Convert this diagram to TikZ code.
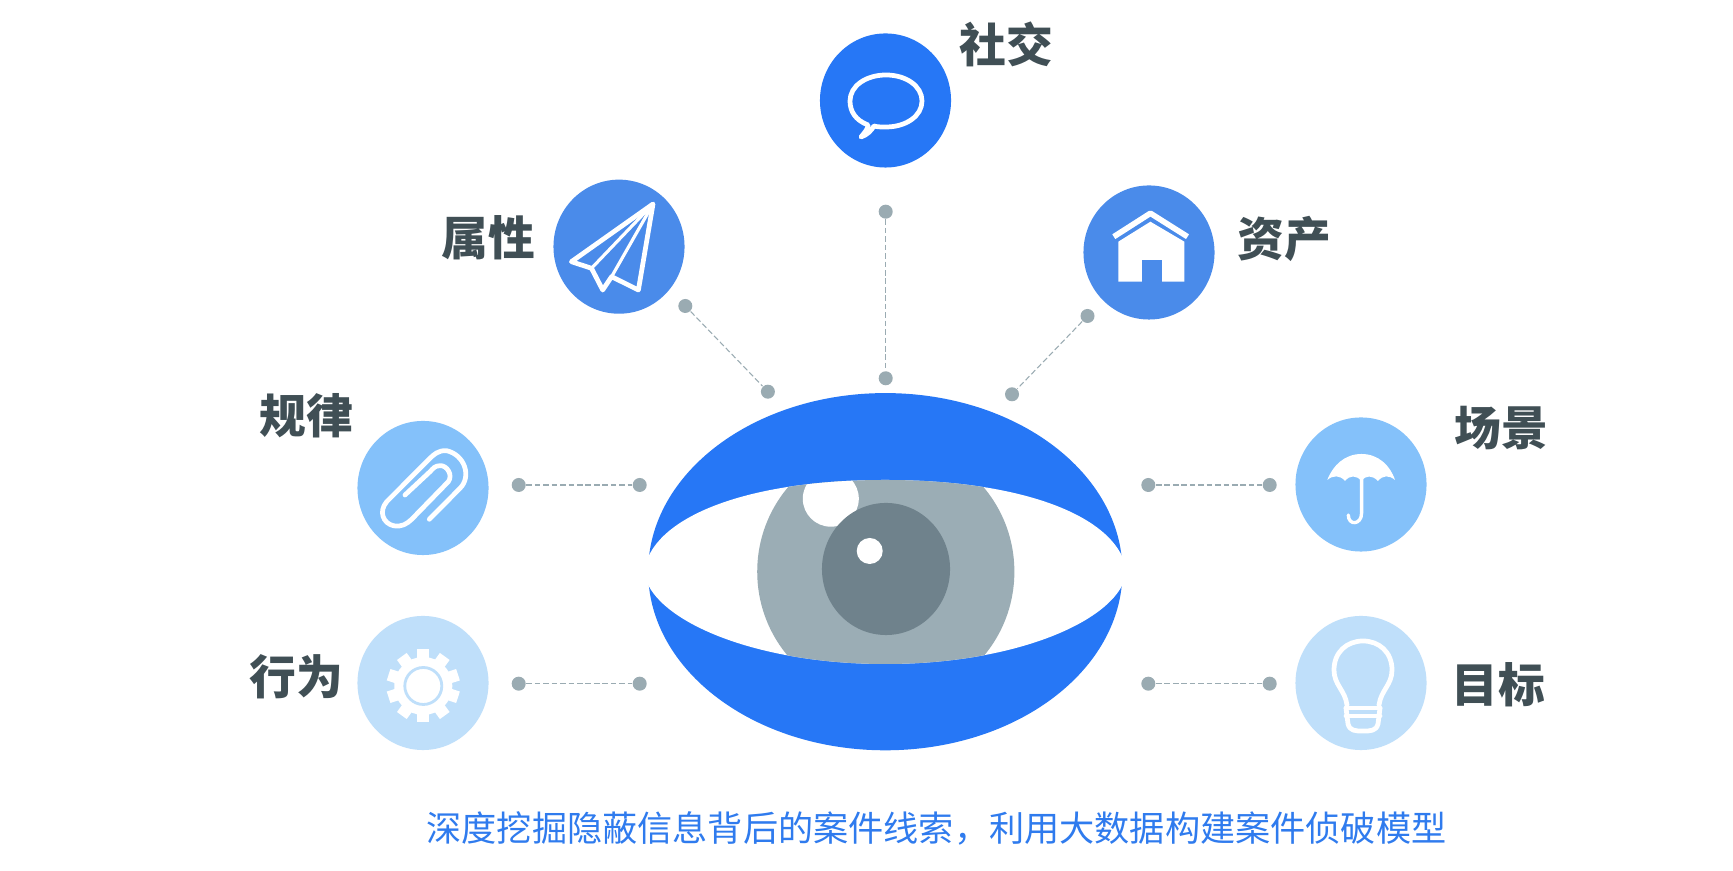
\documentclass[tikz,border=0pt]{standalone}
\usepackage{fontspec}
\usepackage{tikz}
\usetikzlibrary{shapes.geometric}
\newfontfamily\cjk{Noto Sans CJK SC}

\definecolor{eyeblue}{HTML}{2677F6}
\definecolor{midblue}{HTML}{4A8BEA}
\definecolor{skyblue}{HTML}{84C1FA}
\definecolor{paleblue}{HTML}{BFDFFA}
\definecolor{dotgray}{HTML}{9AABB2}
\definecolor{iris}{HTML}{9BADB5}
\definecolor{pupil}{HTML}{6F828C}
\definecolor{labelgray}{HTML}{404F55}
\definecolor{captionblue}{HTML}{2F7BEE}

\tikzset{
	badge/.style={ellipse,inner sep=0pt,minimum width=1.31cm,minimum height=1.34cm},
	tip/.style={circle,fill=dotgray,inner sep=0pt,minimum size=0.14cm},
	link/.style={draw=dotgray,line width=0.3pt,dashed,dash pattern=on 1.6pt off 0.8pt},
	title/.style={text=labelgray,font=\cjk\bfseries\fontsize{13.3}{13.3}\selectfont},
	icon/.style={draw=white,line width=1.35pt,line join=round,line cap=round}
}

\begin{document}
\begin{tikzpicture}[x=0.01cm,y=-0.01cm]
		% Eye with six surrounding topics
		\path[fill=white,use as bounding box] (0,0) rectangle (1733,871);

		\node[badge,fill=eyeblue] (Social) at (885.5,100.5) {};
		\node[badge,fill=midblue] (Attr) at (619,246.7) {};
		\node[badge,fill=midblue] (Asset) at (1149,252.5) {};
		\node[badge,fill=skyblue] (Rule) at (423,488) {};
		\node[badge,fill=skyblue] (Scene) at (1361,484.5) {};
		\node[badge,fill=paleblue] (Action) at (423,683) {};
		\node[badge,fill=paleblue] (Goal) at (1361,683) {};

		\node[title] (SocialText) at (1006,44) {社交};
		\node[title] (AttrText) at (488,238) {属性};
		\node[title] (AssetText) at (1284,239) {资产};
		\node[title] (RuleText) at (306,416) {规律};
		\node[title] (SceneText) at (1501,428) {场景};
		\node[title] (ActionText) at (296,677) {行为};
		\node[title] (GoalText) at (1498,685) {目标};

		\node[tip] (SocialOut) at (885.7,211.7) {};
		\node[tip] (SocialIn) at (885.7,378.3) {};
		\node[tip] (AttrOut) at (685.3,306) {};
		\node[tip] (AttrIn) at (767.9,391.7) {};
		\node[tip] (AssetOut) at (1087.5,316) {};
		\node[tip] (AssetIn) at (1012,394.3) {};
		\node[tip] (RuleOut) at (518.7,485) {};
		\node[tip] (RuleIn) at (639.7,485) {};
		\node[tip] (ActionOut) at (518.7,683.7) {};
		\node[tip] (ActionIn) at (639.7,683.7) {};
		\node[tip] (SceneIn) at (1148.3,485) {};
		\node[tip] (SceneOut) at (1269.7,485) {};
		\node[tip] (GoalIn) at (1148.3,683.7) {};
		\node[tip] (GoalOut) at (1269.7,683.7) {};

		\draw[link] (SocialOut) to (SocialIn);
		\draw[link] (AttrOut) to (AttrIn);
		\draw[link] (AssetOut) to (AssetIn);
		\draw[link] (RuleOut) to (RuleIn);
		\draw[link] (ActionOut) to (ActionIn);
		\draw[link] (SceneIn) to (SceneOut);
		\draw[link] (GoalIn) to (GoalOut);

		\node[ellipse,fill=eyeblue,inner sep=0pt,minimum width=4.74cm,minimum height=3.57cm] (Eye) at (885.3,571.7) {};
		\begin{scope}
			\clip (644,572) .. controls (650,520) and (740,480) .. (885.3,480)
				.. controls (1030.6,480) and (1120.6,520) .. (1126.6,572)
				.. controls (1120.6,618) and (1020.6,664) .. (885.3,664)
				.. controls (750,664) and (650,618) .. (644,572) -- cycle;
			\fill[white] (630,470) rectangle (1140,670);
			\node[ellipse,fill=iris,inner sep=0pt,minimum width=2.57cm,minimum height=2.6cm] (Iris) at (885.8,571.7) {};
			\node[circle,fill=white,inner sep=0pt,minimum size=0.56cm] (Glint) at (830.8,498.7) {};
			\node[ellipse,fill=pupil,inner sep=0pt,minimum width=1.28cm,minimum height=1.32cm] (Pupil) at (886,569) {};
			\node[circle,fill=white,inner sep=0pt,minimum size=0.26cm] (Spark) at (869.7,551) {};
		\end{scope}

		% icons
		\draw[icon] (868,125) .. controls (855,120) and (850,111) .. (850,101)
			.. controls (850,86) and (866,75) .. (886,75)
			.. controls (906,75) and (922,86) .. (922,101)
			.. controls (922,116) and (906,127) .. (886,127)
			.. controls (881,127) and (877,127) .. (874,126)
			.. controls (871,131) and (867,135) .. (861,137)
			.. controls (865,132) and (868,129) .. (868,125) -- cycle;

		\draw[icon] (653,204) -- (571.4,261.7) -- (591.5,268.3) -- (602.7,290) -- (611.6,276.7) -- (638.4,290) -- cycle;
		\draw[icon,line width=0.9pt] (653,204) -- (591.5,268.3);
		\draw[icon,line width=0.9pt] (653,204) -- (611.6,276.7);

		\draw[icon,line width=1.6pt,line cap=butt] (1113.8,236.7) -- (1150.4,213.3) -- (1187.5,236.7);
		\fill[white] (1118.3,241.7) -- (1150.4,221.7) -- (1184.4,241.7) -- (1184.4,281.7) -- (1118.3,281.7) -- cycle;
		\fill[midblue] (1141.5,281.7) -- (1141.5,260) -- (1162,260) -- (1162,281.7) -- cycle;

		\draw[icon] (429.3,519.3) -- (460,488.3) .. controls (471.7,476.7) and (465,455) .. (446.7,450.7)
			.. controls (438.3,450) and (433.3,455) .. (430,458.3) -- (386.7,501.7)
			.. controls (378.3,511.7) and (383.3,523.3) .. (393.3,525.7)
			.. controls (401.7,527.3) and (406.7,524) .. (411.7,519.3) -- (448.3,481.7)
			.. controls (453.3,475) and (446.7,465) .. (440,465.7)
			.. controls (435,465.7) and (433.3,468.3) .. (430,471.7) -- (405,495);

		\foreach \a in {0,36,...,324}
			\fill[white,rotate around={\a:(423.3,686)}] (417.3,649.5) rectangle (429.3,670);
		\fill[white] (423.3,686) circle[radius=29];
		\draw[paleblue,line width=0.8pt] (423.3,686) circle[radius=18.5];

		\fill[white] (1327.3,480) .. controls (1333,465) and (1345,454) .. (1361.5,454)
			.. controls (1378,454) and (1390,465) .. (1395,480)
			.. controls (1389,475) and (1383,475) .. (1378,481)
			.. controls (1372,475) and (1366,475) .. (1361.5,481)
			.. controls (1356,475) and (1350,475) .. (1345,481)
			.. controls (1340,475) and (1333,475) .. (1327.3,480) -- cycle;
		\draw[icon,line width=0.95pt] (1361.6,478) -- (1361.6,513) .. controls (1361.6,525) and (1348.3,526) .. (1348.3,515);

		\draw[icon] (1347,705) .. controls (1345,690) and (1334,685) .. (1334,670)
			.. controls (1334,652) and (1347,641) .. (1363,641)
			.. controls (1379,641) and (1392,652) .. (1392,670)
			.. controls (1392,685) and (1381,690) .. (1379,705);
		\draw[icon] (1346,708) -- (1380,708);
		\draw[icon] (1346,716) -- (1380,716);
		\draw[icon] (1346,708) -- (1348,724) .. controls (1350,731) and (1355,731) .. (1363,731)
			.. controls (1371,731) and (1376,731) .. (1378,724) -- (1380,708);

		\node[text=captionblue,font=\cjk\fontsize{10}{10}\selectfont] (Caption) at (936.5,828) {深度挖掘隐蔽信息背后的案件线索，利用大数据构建案件侦破模型};
\end{tikzpicture}
\end{document}
